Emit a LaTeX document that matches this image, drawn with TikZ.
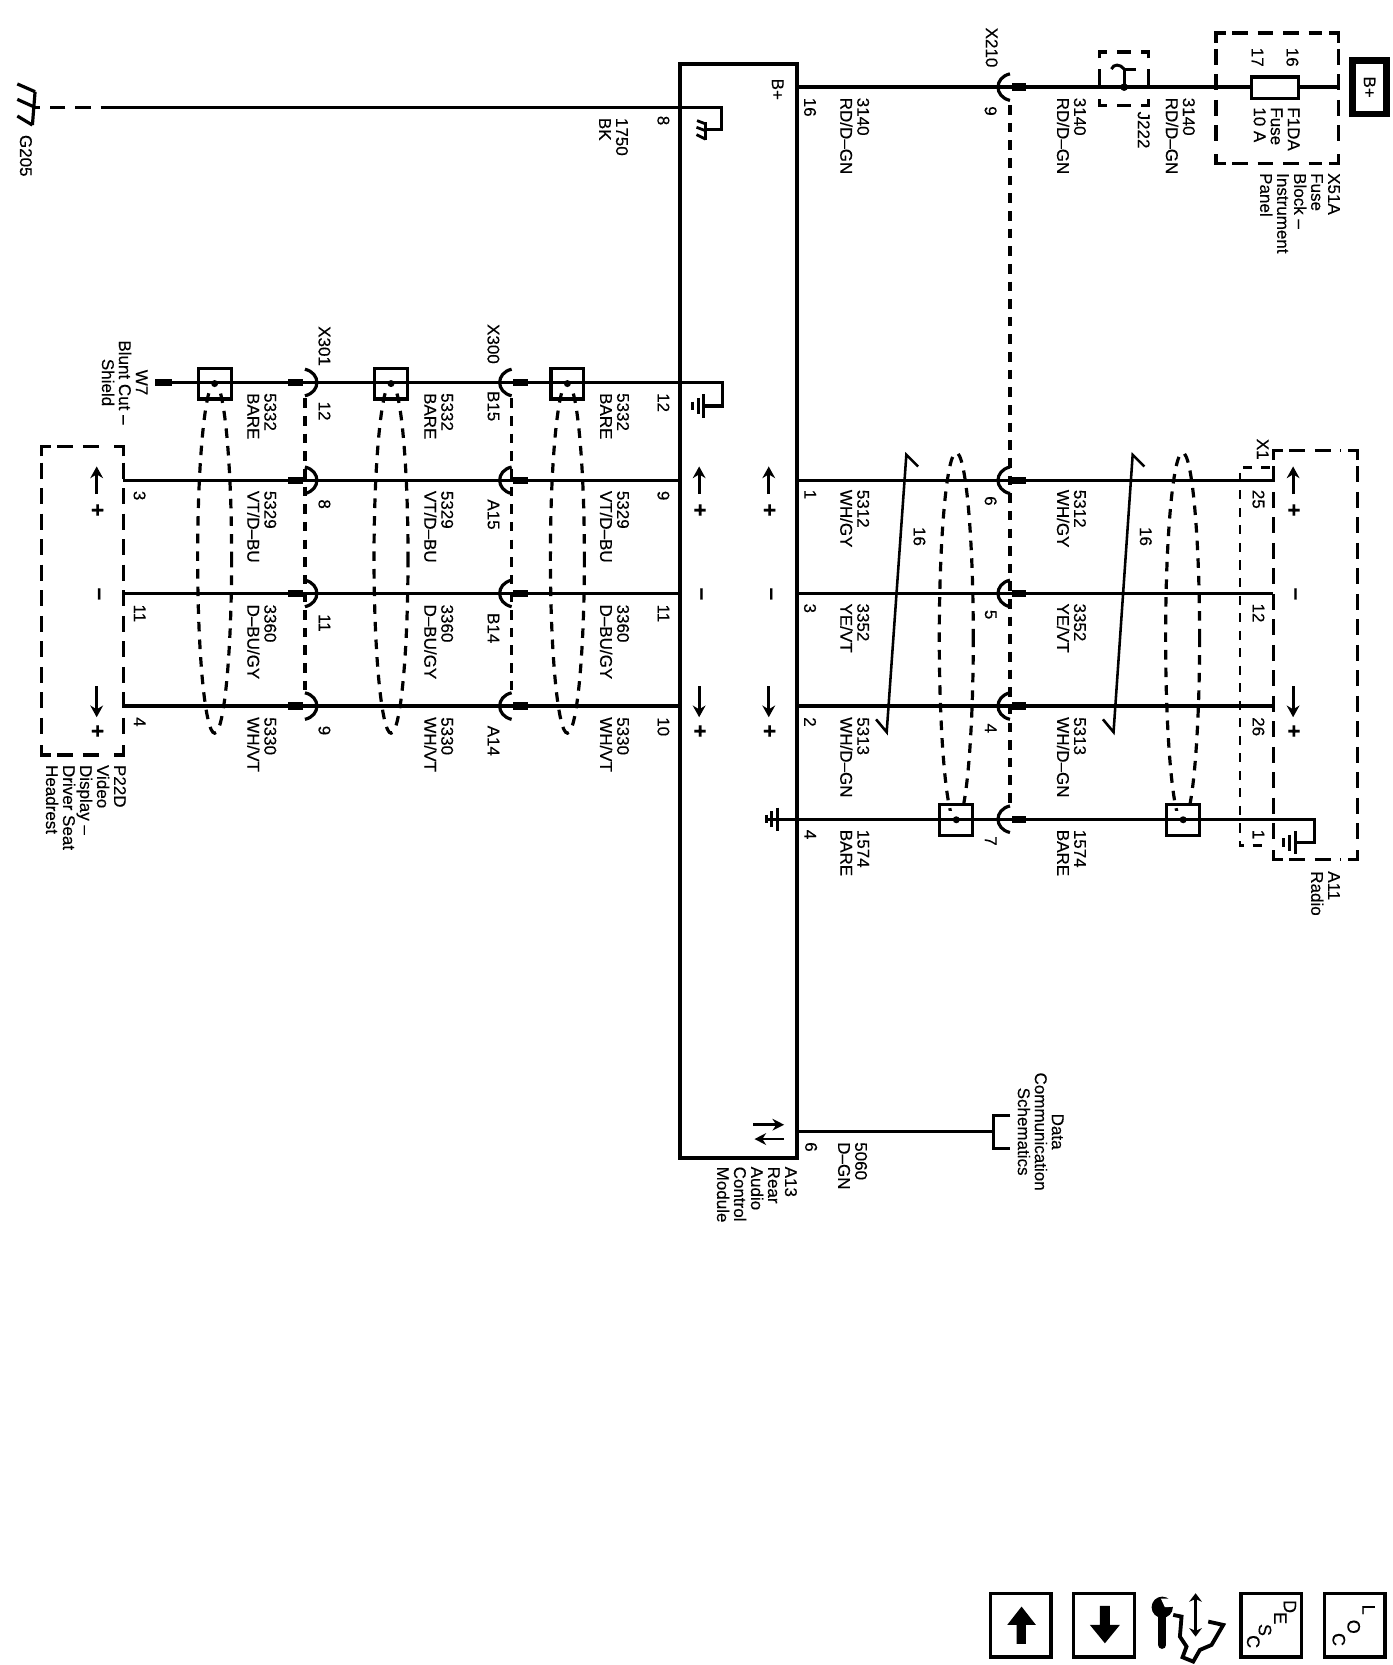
\documentclass[tikz,border=0pt]{standalone}
\usepackage{fontspec}
\setmainfont{Liberation Sans}[FakeBold=0.25]
\usetikzlibrary{arrows.meta}
\newcounter{lb}
\tikzset{
  wire/.style={line width=3.2pt},
  thinw/.style={line width=2.8pt},
  shield/.style={line width=3pt,dash pattern=on 9pt off 7.6pt},
  anchorbox/.style={inner sep=0,outer sep=0},
  sqbox/.style={draw,line width=3pt,inner sep=0,outer sep=0,minimum width=31pt,minimum height=29pt},
  iconbox/.style={draw,line width=3.2pt,inner sep=0,outer sep=0,minimum width=57pt,minimum height=60pt},
  lbl/.style={rotate=-90,anchor=north west,inner sep=0,outer sep=0,align=left,font=\fontsize{16}{16}\selectfont},
  clbl/.style={rotate=-90,anchor=north,inner sep=0,outer sep=0,align=center,font=\fontsize{16}{16}\selectfont},
  sym/.style={rotate=-90,inner sep=0,outer sep=0,font=\bfseries\fontsize{21}{21}\selectfont},
  ltr/.style={rotate=-90,inner sep=0,outer sep=0,font=\fontsize{17}{17}\selectfont},
  arr/.style={line width=2.8pt,-{Stealth[length=11pt,width=12pt]}},
  boxside/.style={line width=3pt,dash pattern=on 15pt off 9pt,shorten >=15pt,shorten <=15pt},
}
\newcommand\Lb[3]{\stepcounter{lb}\node[lbl] (t\thelb) at (#1,#2) {#3};}
\newcommand\Cb[3]{\stepcounter{lb}\node[clbl] (t\thelb) at (#1,#2) {#3};}
\newcommand\Sy[3]{\stepcounter{lb}\node[sym] (t\thelb) at (#1,#2) {#3};}
% dashed box with bracket corners, drawn round a named node
\newcommand\DB[1]{%
  \draw[line width=3pt] (#1.north west) ++(0,9) -- (#1.north west) -- ++(9,0);
  \draw[line width=3pt] (#1.north east) ++(0,9) -- (#1.north east) -- ++(-9,0);
  \draw[line width=3pt] (#1.south west) ++(0,-9) -- (#1.south west) -- ++(9,0);
  \draw[line width=3pt] (#1.south east) ++(0,-9) -- (#1.south east) -- ++(-9,0);
  \draw[boxside] (#1.north west) -- (#1.north east);
  \draw[boxside] (#1.south west) -- (#1.south east);
  \draw[boxside] (#1.north west) -- (#1.south west);
  \draw[boxside] (#1.north east) -- (#1.south east);}
% connector "(" : #1 = x of the dashed line, #2 = y, blob on the right
\newcommand\ConL[2]{%
  \draw[line width=3pt] (#1,#2-12.5) .. controls (#1-15,#2-9) and (#1-15,#2+9) .. (#1,#2+12.5);
  \fill (#1+1.5,#2-3.5) rectangle (#1+15.5,#2+3.5);}
% connector ")" : blob on the left
\newcommand\ConR[2]{%
  \draw[line width=3pt] (#1,#2-12.5) .. controls (#1+15,#2-9) and (#1+15,#2+9) .. (#1,#2+12.5);
  \fill (#1-1.5,#2-3.5) rectangle (#1-15.5,#2+3.5);}
\newcommand\UpDown[2]{% x of arrows
  \draw[arr] (#1,465) -- (#1,439);
  \Sy{#1}{480}{+}
  \Sy{#1}{559}{–}
  \draw[arr] (#1,646) -- (#1,675);
  \Sy{#1}{688}{+}}
\newcommand\EarthV[2]{% #1 x of the short bar, #2 y; bars growing to the right
  \draw[line width=2.8pt] (#1+11,#2-11) -- (#1+11,#2+11);
  \draw[line width=2.8pt] (#1+5.5,#2-7.5) -- (#1+5.5,#2+7.5);
  \draw[line width=2.8pt] (#1,#2-4) -- (#1,#2+4);}
\begin{document}
\begin{tikzpicture}[x=1pt,y=-1pt]
\useasboundingbox (0,0) rectangle (1310.1,1567);
\fill[white] (0,0) rectangle (1310.1,1567);
% rows
\coordinate (rT) at (0,82);
\coordinate (rG) at (0,101);
\coordinate (rA) at (0,452);
\coordinate (rB) at (0,558.5);
\coordinate (rC) at (0,664.5);
\coordinate (rD) at (0,771);
\coordinate (rS) at (0,360);
\coordinate (rX) at (0,1065);
% main boxes
\node[draw,line width=3.6pt,inner sep=0,outer sep=0,minimum width=110pt,minimum height=1030pt] (mod) at (695,575) {};
\node[anchorbox,minimum width=79pt,minimum height=385pt] (radio) at (1238,616.5) {};
\node[anchorbox,minimum width=77pt,minimum height=290pt] (video) at (77.5,565.5) {};
\node[anchorbox,minimum width=115pt,minimum height=123pt] (fblock) at (1202,92.5) {};
\node[anchorbox,minimum width=46pt,minimum height=50pt] (jbox) at (1058,74) {};
\node[draw,line width=6pt,inner sep=0,outer sep=0,minimum width=32pt,minimum height=50pt] (bplus) at (1289,82) {};
\DB{radio}\DB{video}\DB{fblock}
% J222 box
\draw[line width=3pt] (jbox.north west) ++(0,6) -- (jbox.north west) -- ++(7,0);
\draw[line width=3pt] (jbox.north east) ++(0,6) -- (jbox.north east) -- ++(-7,0);
\draw[line width=3pt] (jbox.south west) ++(0,-6) -- (jbox.south west) -- ++(7,0);
\draw[line width=3pt] (jbox.south east) ++(0,-6) -- (jbox.south east) -- ++(-7,0);
\draw[line width=3pt] (jbox.north) ++(-6.5,0) -- ++(13,0);
\draw[line width=3pt] (jbox.south) ++(-6.5,0) -- ++(13,0);
\draw[line width=3pt] (jbox.west) ++(0,-9) -- ++(0,18);
\draw[line width=3pt] (jbox.east) ++(0,-9) -- ++(0,18);
% top wire
\coordinate (g0) at (30.5,101);
\coordinate (g1) at (38,101);
\coordinate (g1a) at (47,101);
\coordinate (g1b) at (85.6,101);
\coordinate (g2) at (94.6,101);
\coordinate (g3) at (679,101);
\coordinate (g4) at (679,122);
\coordinate (g5) at (663,122);
\draw[wire] (mod.east |- rT) -- (fblock.east |- rT);
\node[draw,line width=3pt,fill=white,inner sep=0,outer sep=0,minimum width=44pt,minimum height=20pt] (fuse) at (1200,82.5) {};
\ConL{950.5}{82}
\draw[shield] (950.5,99) -- (950.5,760);
% J222
\fill (1058,82) circle (3.6pt);
\draw[line width=2.8pt] (1058,82) -- (1058,65) -- (1069,65);
\draw[line width=2.8pt] (1046,65) .. controls (1048,60) and (1054,60) .. (1058,65);
% ground 8
\draw[wire] (g2) -- (g3) -- (g4) -- (g5);
\draw[wire,dash pattern=on 14.6pt off 9.4pt] (g1b) -- (g1a);
\draw[wire] (g0) -- (g1);
\draw[line width=3pt] (33,86.3) -- (30.5,117.7);
\draw[line width=3pt] (16.3,79) -- (33,86.3);
\draw[line width=3pt] (16.3,93.5) -- (31.6,100.4);
\draw[line width=3pt] (16.3,109.2) -- (30.5,117.7);
\draw[line width=3pt] (664,115) -- (664,132);
\draw[line width=2.6pt] (656,113.5) -- (664,116.6);
\draw[line width=2.6pt] (655.5,119.8) -- (664,123);
\draw[line width=2.6pt] (655.5,126.7) -- (664,131);
% right-hand wires
\foreach \r in {rA,rB,rC}{\draw[wire] (mod.east |- \r) -- (radio.west |- \r);}
\coordinate (rg1) at (1237,771);
\coordinate (rg2) at (1237,793);
\coordinate (rg3) at (1219,793);
\coordinate (eL) at (721,771);
\draw[wire] (rg3) -- (rg2) -- (rg1) -- (eL |- rD);
\EarthV{1208}{793}
\EarthV{721}{771}
\foreach \y in {452,558.5,664.5,771}{\ConL{950.5}{\y}}
% X1
\draw[line width=2.8pt,dash pattern=on 8.5pt off 8pt] (1195,440) -- (1167,440) -- (1167,796) -- (1195,796);
% twists
\draw[line width=2.4pt] (864,439) -- (853,428) -- (834.5,689) -- (824.5,677);
\draw[line width=2.4pt] (1077,439) -- (1066,428) -- (1048,689) -- (1038,677);
% right shields
\begin{scope}
\clip (870,300) rectangle (1150,763);
\draw[shield] (900,600) ellipse [x radius=16,y radius=174];
\draw[shield] (1113,600) ellipse [x radius=16,y radius=174];
\end{scope}
\node[sqbox] (sq1) at (900,771.5) {};
\node[sqbox] (sq2) at (1113.5,771.5) {};
\fill (sq1.center) circle (3.3pt);
\fill (sq2.center) circle (3.3pt);
% left-hand wires
\coordinate (s1) at (162,360);
\coordinate (s2) at (680,360);
\coordinate (s3) at (680,382);
\coordinate (s4) at (662,382);
\draw[wire] (s1) -- (s2) -- (s3) -- (s4);
\fill (146,356.5) rectangle (162,363.5);
\EarthV{651.5}{382}
\foreach \r in {rA,rB,rC}{\draw[wire] (video.east |- \r) -- (mod.west |- \r);}
\foreach \y in {360,452,558.5,664.5}{\ConL{481.5}{\y}\ConR{287}{\y}}
\draw[shield] (481.5,375) -- (481.5,652);
\draw[shield] (287,375) -- (287,652);
\begin{scope}
\clip (150,369) rectangle (570,720);
\draw[shield] (202,525) ellipse [x radius=16,y radius=165];
\draw[shield] (368,525) ellipse [x radius=16,y radius=165];
\draw[shield] (534,525) ellipse [x radius=16,y radius=165];
\end{scope}
\node[sqbox] (sq3) at (202,361) {};
\node[sqbox] (sq4) at (368,361) {};
\node[sqbox] (sq5) at (534,361) {};
\fill (sq3.center) circle (3.3pt);
\fill (sq4.center) circle (3.3pt);
\fill (sq5.center) circle (3.3pt);
% arrows and polarity signs
\UpDown{91}{}
\UpDown{658}{}
\UpDown{723.5}{}
\UpDown{1217}{}
% data link
\coordinate (d1) at (935,1050);
\coordinate (d2) at (951,1050);
\coordinate (d3) at (935,1081);
\coordinate (d4) at (951,1081);
\draw[wire] (d2) -- (d1) -- (d3) -- (d4);
\draw[thinw] (mod.east |- rX) -- (d1 |- rX);
\draw[line width=2.6pt,-{Stealth[length=11pt,width=11pt]}] (709,1058.5) -- (738,1058.5);
\draw[line width=2.6pt,-{Stealth[length=11pt,width=11pt]}] (738,1072) -- (710,1072);
% texts
\Lb{737.5}{74}{B+}
\node[rotate=-90,inner sep=0,font=\fontsize{16}{16}\selectfont] (bp) at (bplus.center) {B+};
\Lb{768}{92}{16}
\Lb{818}{92}{3140\\RD/D–GN}
\Lb{939}{26}{X210}
\Lb{938}{100}{9}
\Lb{1022}{92}{3140\\RD/D–GN}
\Lb{1082}{105}{J222}
\Lb{1124.5}{92}{3140\\RD/D–GN}
\Lb{1222}{45}{16}
\Lb{1189}{45}{17}
\Lb{1223}{101}{F1DA\\Fuse\\10 A}
\Lb{1261}{163}{X51A\\Fuse\\Block –\\Instrument\\Panel}
\Lb{30}{127}{G205}
\Lb{630}{109}{8}
\Lb{591}{111}{1750\\BK}
% right block
\Lb{768}{461}{1}\Lb{768}{568}{3}\Lb{768}{675}{2}\Lb{768}{781}{4}
\Lb{818}{461}{5312\\WH/GY}
\Lb{818}{568}{3352\\YE/VT}
\Lb{818}{675}{5313\\WH/D–GN}
\Lb{818}{781}{1574\\BARE}
\Lb{938}{467}{6}\Lb{938}{574}{5}\Lb{938}{681}{4}\Lb{938}{787}{7}
\Lb{1022}{461}{5312\\WH/GY}
\Lb{1022}{568}{3352\\YE/VT}
\Lb{1022}{675}{5313\\WH/D–GN}
\Lb{1022}{781}{1574\\BARE}
\Lb{871}{496}{16}
\Lb{1084}{496}{16}
\Lb{1190}{461}{25}\Lb{1190}{568}{12}\Lb{1190}{675}{26}\Lb{1190}{781}{1}
\Lb{1194}{413}{X1}
\Lb{1261}{820}{A11\\Radio}
% left block
\Lb{630}{370}{12}\Lb{630}{462}{9}\Lb{630}{569}{11}\Lb{630}{675}{10}
\Lb{592}{370}{5332\\BARE}
\Lb{592}{462}{5329\\VT/D–BU}
\Lb{592}{569}{3360\\D–BU/GY}
\Lb{592}{675}{5330\\WH/VT}
\Lb{470}{305}{X300}
\Lb{470}{368}{B15}\Lb{470}{470}{A15}\Lb{470}{577}{B14}\Lb{470}{683}{A14}
\Lb{426.5}{370}{5332\\BARE}
\Lb{426.5}{462}{5329\\VT/D–BU}
\Lb{426.5}{569}{3360\\D–BU/GY}
\Lb{426.5}{675}{5330\\WH/VT}
\Lb{311}{307}{X301}
\Lb{311}{378}{12}\Lb{311}{470}{8}\Lb{311}{578}{11}\Lb{311}{683}{9}
\Lb{260}{370}{5332\\BARE}
\Lb{260}{462}{5329\\VT/D–BU}
\Lb{260}{569}{3360\\D–BU/GY}
\Lb{260}{675}{5330\\WH/VT}
\Cb{139}{360}{W7\\Blunt Cut –\\Shield}
\Lb{137}{462}{3}\Lb{137}{569}{11}\Lb{137}{675}{4}
\Lb{118.5}{720}{P22D\\Video\\Display –\\Driver Seat\\Headrest}
% bottom of module
\Lb{750}{1098}{A13\\Rear\\Audio\\Control\\Module}
\Lb{769}{1075}{6}
\Lb{816}{1075}{5060\\D–GN}
\Cb{1001}{1065}{Data\\Communication\\Schematics}
% navigation icons
\node[iconbox] (ic1) at (960.5,1529.5) {};
\node[iconbox] (ic2) at (1039,1529.5) {};
\node[iconbox] (ic3) at (1196.5,1529.5) {};
\node[iconbox] (ic4) at (1275,1529.5) {};
\begin{scope}[shift={(903.4,1477.5)},x=0.3137pt,y=-0.3137pt]
\fill (185,110) -- (228,165) -- (198,165) -- (198,222) -- (170,222) -- (170,165) -- (142,165) -- cycle;
\fill (435,220) -- (480,165) -- (450,165) -- (450,108) -- (420,108) -- (420,165) -- (390,165) -- cycle;
\draw[line width=7.5pt,line cap=round] (607,125) -- (607,225);
\fill (607,112) circle (10pt);
\fill[white] (603,86) -- (645,86) -- (645,110) -- (615,112) -- cycle;
\draw[line width=3.2pt,{Stealth[length=8pt,width=12pt]}-{Stealth[length=8pt,width=12pt]}] (707,70) -- (707,200);
\draw[line width=3.6pt] (640,135) -- (665,140) -- (660,200) -- (680,230) -- (668,262) -- (700,275) -- (720,240) -- (755,225) -- (790,165) -- (745,155);
\end{scope}
\node[ltr] (dD) at (1214,1512) {D};
\node[ltr] (dE) at (1205,1523) {E};
\node[ltr] (dS) at (1190.5,1534) {S};
\node[ltr] (dC) at (1179.5,1545) {C};
\node[ltr] (lL) at (1288,1515) {L};
\node[ltr] (lO) at (1274,1531) {O};
\node[ltr] (lC) at (1260,1543) {C};
\end{tikzpicture}
\end{document}
